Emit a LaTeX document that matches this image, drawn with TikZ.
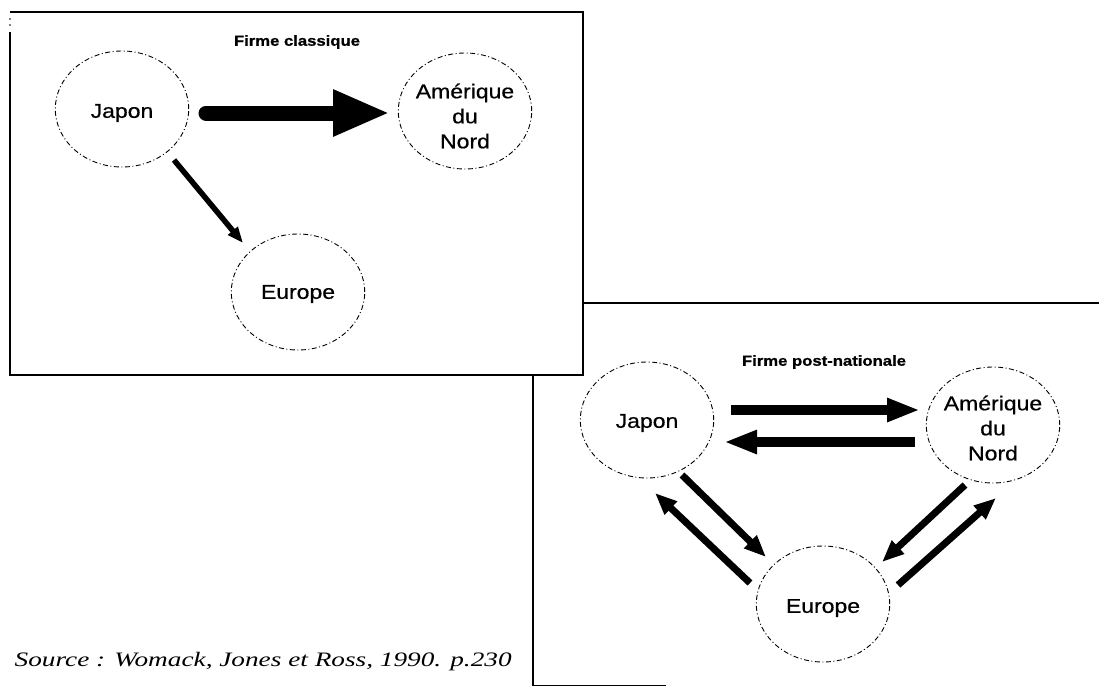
\documentclass[tikz,border=0pt]{standalone}
\usepackage{fontspec}
\setmainfont{Liberation Sans}
\newfontfamily\srcfont{Liberation Serif}
\newfontfamily\lblfont[FakeBold=0.5]{Liberation Sans}
\newfontfamily\ttlfont[FakeBold=0.8]{Liberation Sans Bold}
\usetikzlibrary{arrows.meta,calc}
\begin{document}
\begin{tikzpicture}[x=1pt,y=-1pt,
  place/.style={circle, draw, line width=0.9pt, dash pattern=on 5pt off 2.5pt on 1pt off 2.5pt,
    minimum size=116pt, inner sep=0pt, xscale=1.15},
  lbl/.style={align=center, xscale=1.15, inner sep=0pt, font=\lblfont\fontsize{20}{25}\selectfont},
  ttl/.style={font=\ttlfont\fontsize{14.5}{17}\selectfont, xscale=1.15},
  bigarrow/.style={line width=15pt, line cap=round, -{Triangle[length=57pt,width=43pt]}},
  midarrow/.style={line width=10pt, -{Triangle[length=33pt,width=22pt]}},
  diagarrow/.style={line width=7pt, -{Triangle[length=22pt,width=17pt]}},
  thinarrow/.style={line width=5.5pt, -{Triangle[length=16pt,width=12pt]}},
  frame/.style={line width=1.5pt}]
\useasboundingbox (0,0) rectangle (1099,686);
% frames
\draw[frame] (10,32) -- (10,375) -- (583,375) -- (583,12) -- (10,12);
\fill (10,19) circle (0.8pt) (10,25) circle (0.8pt);
\draw[frame] (583,303) -- (1099,303);
\draw[frame] (533,375) -- (533,686);
\draw[line width=1pt] (533,685) -- (666,685);
% top panel
\node[ttl] (t1) at (297,42) {Firme classique};
\node[place] (J1) at (122,109) {};
\node[place] (A1) at (465,111) {};
\node[place] (E1) at (298,292) {};
\node[lbl] (J1t) at ($(J1)+(0,4)$) {Japon};
\node[lbl] (A1t) at ($(A1)+(0,5)$) {Amérique\\du\\Nord};
\node[lbl] (E1t) at ($(E1)+(0,2)$) {Europe};
\draw[bigarrow] ($(J1)+(84,4)$) -- ($(A1)+(-75,2)$);
\draw[thinarrow] ($(J1)+(52,51)$) -- ($(E1)+(-55,-49)$);
% bottom panel
\node[ttl] (t2) at (824,362) {Firme post-nationale};
\node[place] (J2) at (647,420) {};
\node[place] (A2) at (993,425) {};
\node[place] (E2) at (823,604) {};
\node[lbl] (J2t) at ($(J2)+(0,3)$) {Japon};
\node[lbl] (A2t) at ($(A2)+(0,3)$) {Amérique\\du\\Nord};
\node[lbl] (E2t) at ($(E2)+(0,4)$) {Europe};
\draw[midarrow] ($(J2)+(84,-10)$) -- ($(A2)+(-73,-15)$);
\draw[midarrow] ($(A2)+(-78,17)$) -- ($(J2)+(77,22)$);
\draw[diagarrow] ($(J2)+(35,55)$) -- ($(E2)+(-57,-47)$);
\draw[diagarrow] ($(E2)+(-73,-21)$) -- ($(J2)+(8,73)$);
\draw[diagarrow] ($(A2)+(-28,60)$) -- ($(E2)+(59,-42)$);
\draw[diagarrow] ($(E2)+(75,-19)$) -- ($(A2)+(3,73)$);
% source
\node[font=\srcfont\itshape\fontsize{20.5}{24}\selectfont, xscale=1.33, anchor=west] (src) at (10,662) {Source : Womack, Jones et Ross, 1990. p.230};
\end{tikzpicture}
\end{document}
